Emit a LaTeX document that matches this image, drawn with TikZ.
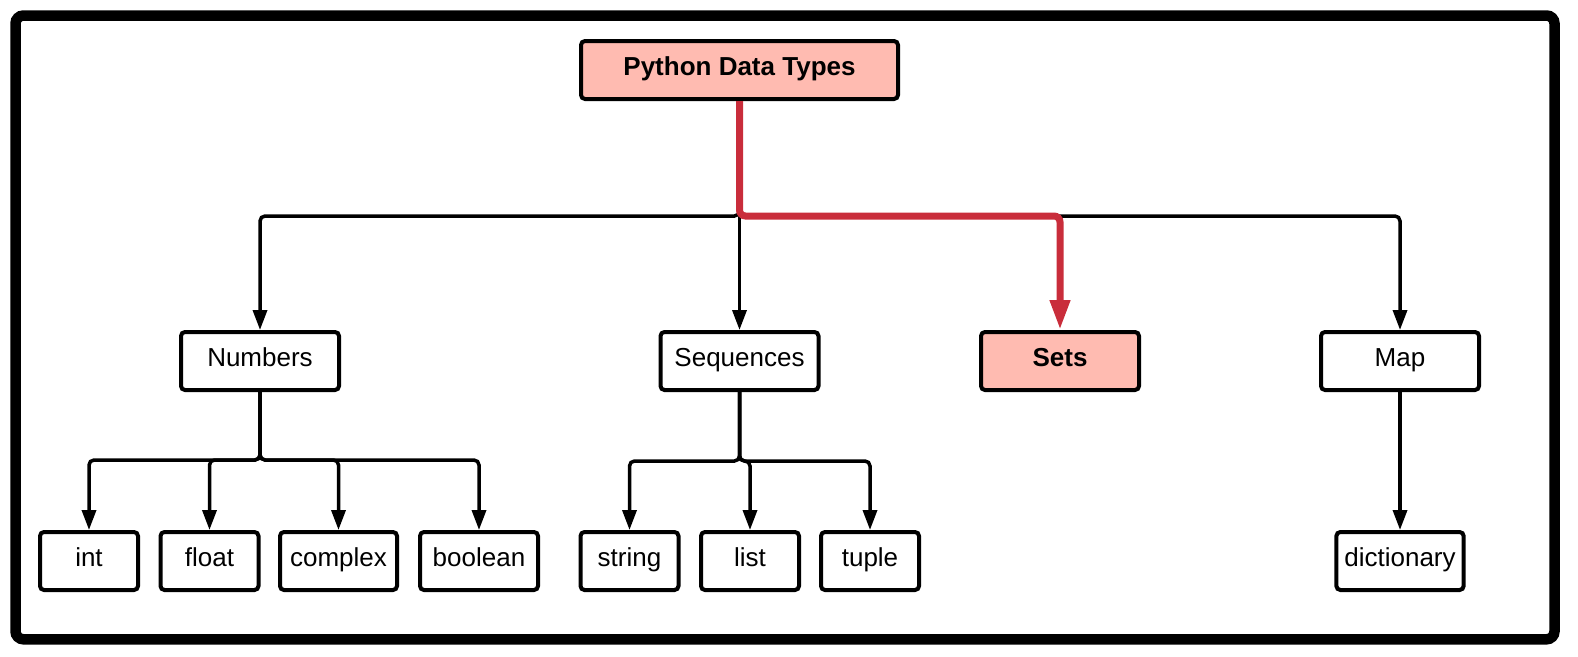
\documentclass[tikz,border=0pt]{standalone}
\usepackage{fontspec}
\setmainfont{Liberation Sans}
\usepackage{tikz}
\usetikzlibrary{arrows.meta, calc}

\definecolor{setpink}{HTML}{FFBBB1}
\definecolor{setred}{HTML}{C92D3B}

\begin{document}
\begin{tikzpicture}[x=1pt, y=-1pt,
  box/.style={draw, line width=4pt, rounded corners=4pt, minimum height=58pt, inner xsep=8pt,
    text height=19pt, text depth=7.6pt, font=\fontsize{26}{30}\selectfont},
  mid/.style={box, minimum width=158pt},
  leaf/.style={box, minimum width=98pt},
  hot/.style={fill=setpink, font=\fontsize{26}{30}\selectfont\bfseries},
  link/.style={line width=3.5pt, rounded corners=5pt, -{Triangle[length=20pt, width=14pt]}},
  hotlink/.style={setred, line width=7pt, rounded corners=6pt, -{Triangle[length=30pt, width=19pt]}}]
\useasboundingbox (0,0) rectangle (1578,656);

% Outer frame
\draw[line width=10.5pt, rounded corners=8pt] (15.5,15.5) rectangle (1554.5,639.3);

% Root and main groups
\node[box, hot, minimum width=317pt] (pdt) at (739.5,70) {Python Data Types};
\node[mid] (numbers) at (260,361) {Numbers};
\node[mid] (sequences) at (739.5,361) {Sequences};
\node[mid, hot] (sets) at (1060,361) {Sets};
\node[mid] (map) at (1400,361) {Map};

% Leaf types
\node[leaf] (int) at (89,561) {int};
\node[leaf] (float) at (209.5,561) {float};
\node[leaf, minimum width=117pt] (complex) at (338.5,561) {complex};
\node[leaf, minimum width=118pt] (boolean) at (479,561) {boolean};
\node[leaf] (string) at (629.5,561) {string};
\node[leaf] (list) at (750,561) {list};
\node[leaf] (tuple) at (870,561) {tuple};
\node[leaf] (dictionary) at (1400,561) {dictionary};

% Bus levels
\coordinate (topbus) at (740,216);
\coordinate (numbus) at (260,460);
\coordinate (seqbus) at (740,461);

% Connectors
\foreach \n in {numbers, map}
  \draw[link] (pdt.south) -- (pdt.south |- topbus) -| (\n.north);
\draw[link] (pdt.south) -- (sequences.north);
\foreach \n in {int, float, complex, boolean}
  \draw[link] (numbers.south) -- (numbers.south |- numbus) -| (\n.north);
\foreach \n in {string, list, tuple}
  \draw[link] (sequences.south) -- (sequences.south |- seqbus) -| (\n.north);
\draw[link] (map.south) -- (dictionary.north);

% Highlighted path to Sets
\draw[hotlink] (pdt.south) -- (pdt.south |- topbus) -| (sets.north);
\end{tikzpicture}
\end{document}
